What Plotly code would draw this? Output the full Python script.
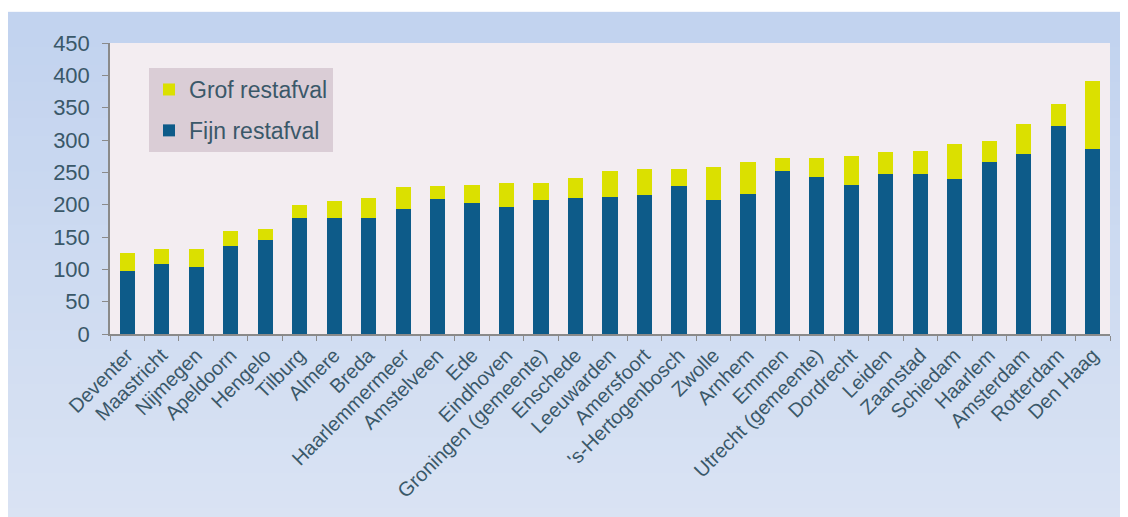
import plotly.graph_objects as go
import numpy as np

cities = ["Deventer", "Maastricht", "Nijmegen", "Apeldoorn", "Hengelo", "Tilburg", "Almere",
          "Breda", "Haarlemmermeer", "Amstelveen", "Ede", "Eindhoven", "Groningen (gemeente)",
          "Enschede", "Leeuwarden", "Amersfoort", "'s-Hertogenbosch", "Zwolle", "Arnhem",
          "Emmen", "Utrecht (gemeente)", "Dordrecht", "Leiden", "Zaanstad", "Schiedam",
          "Haarlem", "Amsterdam", "Rotterdam", "Den Haag"]

fijn = [98, 108, 103, 136, 145, 180, 180, 180, 194, 208, 202, 197, 207, 210, 212, 215,
        229, 207, 217, 252, 243, 230, 248, 248, 240, 266, 278, 322, 286]
totaal = [125, 131, 131, 159, 162, 199, 205, 211, 227, 229, 230, 234, 234, 242, 252, 255,
          255, 259, 266, 272, 272, 275, 281, 283, 294, 299, 325, 356, 391]
grof = [t - f for t, f in zip(totaal, fijn)]

y_ticks = [0, 50, 100, 150, 200, 250, 300, 350, 400, 450]

text_col = "#3a5869"

fig = go.Figure()
fig.add_trace(go.Bar(x=cities, y=fijn, name="Fijn restafval", marker_color="#0d5b89",
                     marker_line_width=0, legendgroup="b", legendrank=2))
fig.add_trace(go.Bar(x=cities, y=grof, name="Grof restafval", marker_color="#dbe000",
                     marker_line_width=0, legendgroup="a", legendrank=1))

# light-blue gradient frame behind the chart
shapes = []
n = 30
y_top, y_bot = 1.107, -0.72
edges = np.linspace(y_top, y_bot, n + 1)
c0 = np.array([0xc2, 0xd3, 0xef])
c1 = np.array([0xdb, 0xe4, 0xf4])
for i in range(n):
    c = c0 + (c1 - c0) * (i / (n - 1))
    shapes.append(dict(type="rect", xref="paper", yref="paper", x0=-0.11, x1=1.05,
                       y0=max(edges[i + 1] - 0.02, y_bot), y1=edges[i],
                       fillcolor="rgb(%d,%d,%d)" % tuple(c.astype(int)),
                       line_width=0, layer="below"))
# white strip above the frame
shapes.append(dict(type="rect", xref="paper", yref="paper", x0=-0.11, x1=1.05,
                   y0=y_top, y1=1.2, fillcolor="white", line_width=0, layer="below"))
# plot area background on top of the frame
shapes.append(dict(type="rect", xref="paper", yref="paper", x0=0, x1=1, y0=0, y1=1,
                   fillcolor="#f3edf1", line_width=0, layer="below"))

fig.update_layout(
    width=1120, height=509,
    margin=dict(l=102, r=18, t=35, b=183, autoexpand=False),
    paper_bgcolor="#dbe4f4",
    plot_bgcolor="#f3edf1",
    barmode="stack",
    bargap=0.56,
    shapes=shapes,
    font=dict(family="Liberation Sans, Arial, sans-serif", color=text_col),
    legend=dict(x=0.039, y=0.914, xanchor="left", yanchor="top",
                bgcolor="#dacdd6", traceorder="grouped", tracegroupgap=8,
                font=dict(size=23, color=text_col), itemwidth=30),
    showlegend=True,
)
fig.update_yaxes(range=[0, 450], tickvals=y_ticks, showgrid=False, zeroline=False,
                 showline=True, linecolor="#8a8a8a", linewidth=1.5, automargin=False,
                 ticks="outside", ticklen=6, tickcolor="#8a8a8a",
                 tickfont=dict(size=22, color=text_col), ticklabelstandoff=8)
fig.update_xaxes(showgrid=False, showline=True, linecolor="#8a8a8a", linewidth=1.5,
                 automargin=False,
                 ticks="outside", ticklen=5, tickcolor="#8a8a8a", tickson="boundaries",
                 tickangle=-45, tickfont=dict(size=20, color=text_col))

fig.write_html("out.html",
               post_script="document.documentElement.style.overflow='hidden';"
                           "document.body.style.overflow='hidden';")
